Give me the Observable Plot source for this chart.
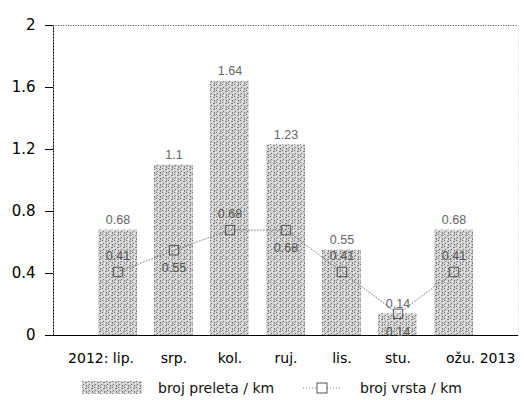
<!DOCTYPE html>
<html><head><meta charset="utf-8">
<script src="https://cdn.jsdelivr.net/npm/d3@7"></script>
<script src="https://cdn.jsdelivr.net/npm/@observablehq/plot@0.6"></script>
<style>
body{margin:0;background:#fff;font-family:"DejaVu Sans",sans-serif;}
#legend{position:relative;height:26px;width:524px;font-size:14px;color:#111;}
#legend .it{position:absolute;top:0;line-height:26px;height:26px;white-space:nowrap;}
</style>
</head><body>
<svg width="0" height="0" style="position:absolute">
  <defs>
    <pattern id="halftone" width="6" height="6" patternUnits="userSpaceOnUse">
      <rect width="6" height="6" fill="#d2d2d2"/>
      <rect x="0" y="0" width="1" height="1" fill="#6e6e6e"/>
      <rect x="3" y="1" width="2" height="1" fill="#7c7c7c"/>
      <rect x="1" y="3" width="1" height="1" fill="#707070"/>
      <rect x="4" y="4" width="1" height="2" fill="#808080"/>
      <rect x="2" y="5" width="1" height="1" fill="#ffffff"/>
      <rect x="5" y="2" width="1" height="1" fill="#f4f4f4"/>
      <rect x="2" y="1" width="1" height="1" fill="#f0f0f0"/>
      <rect x="0" y="4" width="1" height="1" fill="#9a9a9a"/>
    </pattern>
  </defs>
</svg>
<div id="chart"></div>
<div id="legend"></div>
<script>
const months = ["2012: lip.", "srp.", "kol.", "ruj.", "lis.", "stu.", "ožu. 2013"];
const preleta = [0.68, 1.1, 1.64, 1.23, 0.55, 0.14, 0.68];
const vrsta = [0.41, 0.55, 0.68, 0.68, 0.41, 0.14, 0.41];
const vrstaLabelSide = ["above", "below", "above", "below", "above", "below", "above"];
const yTicks = [0, 0.4, 0.8, 1.2, 1.6, 2];
const seriesNames = ["broj preleta / km", "broj vrsta / km"];

const data = months.map((m, i) => ({month: m, preleta: preleta[i], vrsta: vrsta[i], side: vrstaLabelSide[i]}));
const first = months[0], last = months[months.length - 1];
const labelFont = "Liberation Sans, Arial, sans-serif";

const chart = Plot.plot({
  width: 524, height: 375,
  marginLeft: 53, marginRight: 6, marginTop: 25, marginBottom: 40,
  style: {fontFamily: "DejaVu Sans, sans-serif", fontSize: "15px", color: "#000", background: "#fff"},
  x: {domain: months, paddingInner: 0.3, paddingOuter: 0.74, axis: null},
  y: {domain: [0, 2], ticks: yTicks, tickFormat: d => String(d), tickSize: 8, tickPadding: 10, line: true, label: null},
  marks: [
    Plot.frame({stroke: "#d0d0d0", strokeDasharray: "1,2"}),
    Plot.ruleY([2], {stroke: "#555", strokeDasharray: "1,1.5"}),
    Plot.barY(data, {x: "month", y: "preleta", fill: "url(#halftone)"}),
    Plot.ruleY([0], {stroke: "#000", strokeWidth: 1.2}),
    Plot.lineY(data, {x: "month", y: "vrsta", stroke: "#777", strokeWidth: 0.9, strokeDasharray: "1,2"}),
    Plot.dot(data, {x: "month", y: "vrsta", symbol: "square", r: 5.3, stroke: "#444", fill: "none", strokeWidth: 0.9}),
    Plot.text(data, {x: "month", y: "preleta", text: d => String(d.preleta), dy: -10, fill: "#666", fontSize: 12.5, fontFamily: labelFont}),
    Plot.text(data.filter(d => d.side === "above"), {x: "month", y: "vrsta", text: d => String(d.vrsta), dy: -16, fill: "#555", fontSize: 12.5, fontFamily: labelFont}),
    Plot.text(data.filter(d => d.side === "below"), {x: "month", y: "vrsta", text: d => String(d.vrsta), dy: 18, fill: "#555", fontSize: 12.5, fontFamily: labelFont}),
    Plot.text(data.filter(d => d.month !== first && d.month !== last), {x: "month", text: "month", frameAnchor: "bottom", dy: 27, fontSize: 14, fill: "#000"}),
    Plot.text(data.filter(d => d.month === first), {x: "month", text: "month", frameAnchor: "bottom", dy: 27, dx: 16, textAnchor: "end", fontSize: 14, fill: "#000"}),
    Plot.text(data.filter(d => d.month === last), {x: "month", text: "month", frameAnchor: "bottom", dy: 27, dx: -8, textAnchor: "start", fontSize: 14, fill: "#000"})
  ]
});
document.getElementById("chart").appendChild(chart);

const legend = document.getElementById("legend");
legend.innerHTML = `
  <svg class="it" style="left:82px;top:6px;height:13px" width="60" height="13"><rect width="60" height="13" fill="url(#halftone)"/></svg>
  <span class="it" style="left:158px">${seriesNames[0]}</span>
  <svg class="it" style="left:300px;top:7px;height:12px" width="44" height="12">
    <line x1="3" x2="41" y1="6" y2="6" stroke="#777" stroke-width="0.9" stroke-dasharray="1,2"/>
    <rect x="17" y="1" width="10" height="10" fill="#fff" stroke="#444" stroke-width="0.9"/>
  </svg>
  <span class="it" style="left:360px">${seriesNames[1]}</span>`;
</script>
</body></html>
